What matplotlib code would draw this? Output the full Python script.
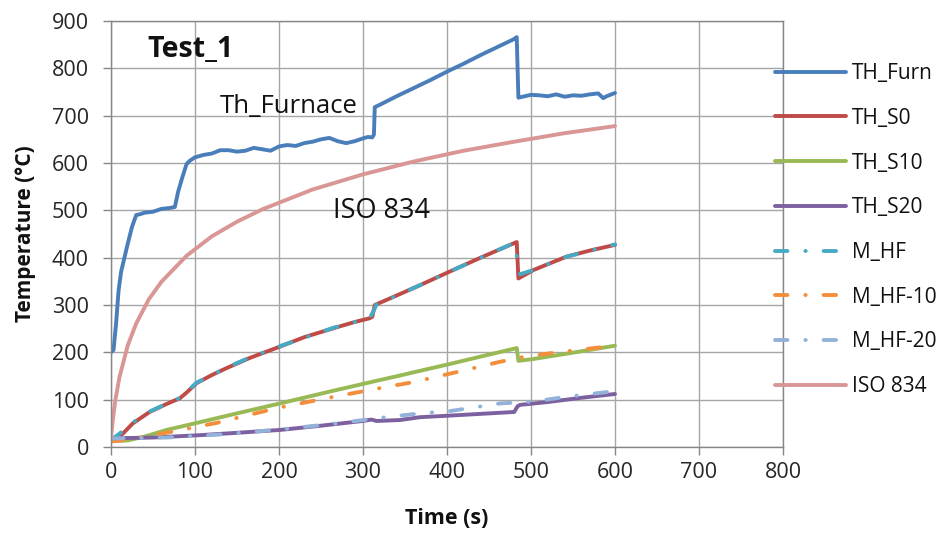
import matplotlib
matplotlib.use("Agg")
import matplotlib.pyplot as plt

plt.rcParams['font.family'] = ['Open Sans', 'DejaVu Sans']

# ---------------- data ----------------
t_furn = [0, 3, 6, 9, 12, 16, 20, 25, 30, 35, 40, 50, 60, 70, 76, 80, 85, 90, 94, 100,
          110, 120, 130, 140, 150, 160, 170, 180, 190, 200, 210, 220, 230, 240, 250, 260,
          270, 280, 290, 300, 306, 311, 313, 314, 320, 340, 360, 380, 400, 420, 440, 460,
          480, 483, 485, 490, 500, 510, 520, 530, 540, 550, 560, 570, 580, 586, 590, 600]
T_furn = [200, 205, 260, 330, 370, 400, 430, 465, 490, 492, 495, 497, 503, 505, 507, 540,
          570, 598, 605, 612, 617, 620, 627, 627, 624, 626, 632, 629, 626, 635, 638, 636,
          642, 645, 650, 653, 646, 642, 646, 652, 655, 654, 660, 718, 723, 741, 758, 775,
          793, 810, 828, 845, 862, 866, 738, 740, 744, 743, 741, 745, 740, 743, 742, 745,
          747, 737, 741, 748]

t_s0 = [0, 5, 14, 26, 46, 65, 82, 90, 102, 120, 138, 165, 201, 230, 265, 290, 308, 311,
        314, 340, 368, 400, 440, 483, 485, 503, 542, 570, 600]
T_s0 = [15, 20, 28, 50, 74, 90, 103, 115, 135, 152, 167, 188, 212, 232, 251, 264, 272, 275,
        300, 320, 342, 368, 400, 433, 356, 374, 402, 415, 427]

t_s10 = [0, 20, 40, 66, 100, 145, 201, 265, 314, 344, 368, 400, 440, 483, 485, 503, 542, 600]
T_s10 = [12, 14, 22, 36, 50, 69, 92, 119, 139, 151, 161, 174, 191, 209, 182, 186, 197, 214]

t_s20 = [0, 20, 50, 106, 150, 201, 250, 300, 310, 316, 344, 368, 400, 440, 480, 484, 487,
         520, 560, 600]
T_s20 = [18, 19, 20, 25, 30, 36, 45, 55, 58, 55, 57, 63, 66, 70, 74, 86, 89, 95, 104, 112]

t_hf = [0, 10, 26, 46, 82, 102, 138, 165, 201, 265, 308, 312, 316, 368, 400, 440, 480,
        484, 487, 503, 542, 600]
T_hf = [15, 28, 52, 75, 104, 136, 168, 189, 213, 252, 273, 285, 301, 342, 368, 400, 431,
        395, 365, 374, 402, 428]

t_hf10 = [0, 20, 40, 66, 126, 197, 265, 328, 360, 423, 463, 490, 523, 560, 600]
T_hf10 = [12, 15, 22, 30, 51, 82, 106, 127, 137, 163, 180, 190, 198, 206, 214]

t_hf20 = [0, 35, 66, 126, 201, 265, 332, 368, 404, 463, 503, 542, 600]
T_hf20 = [18, 19, 20, 26, 37, 49, 64, 71, 76, 92, 96, 106, 118]

t_iso = [0, 2, 5, 10, 20, 30, 45, 60, 90, 120, 150, 180, 240, 300, 360, 420, 480, 540, 600]
T_iso = [20, 55, 97, 147, 215, 261, 312, 349, 404, 445, 476, 502, 544, 576, 603, 626, 645,
         663, 678]

x_ticks = [0, 100, 200, 300, 400, 500, 600, 700, 800]
y_ticks = [0, 100, 200, 300, 400, 500, 600, 700, 800, 900]

# ---------------- figure ----------------
fig = plt.figure(figsize=(9.45, 5.36), dpi=100)
ax = fig.add_axes([111/945, 1-447/536, (783-111)/945, (447-21)/536])

lw = 2.8
dashdot = (0, (3.2, 4.6, 0.1, 4.6))
series = [
    (t_furn, T_furn, 'TH_Furn', '#4A7EBB', '-'),
    (t_s0, T_s0, 'TH_S0', '#BE4B48', '-'),
    (t_s10, T_s10, 'TH_S10', '#98B954', '-'),
    (t_s20, T_s20, 'TH_S20', '#7D60A0', '-'),
    (t_hf, T_hf, 'M_HF', '#46AAC5', dashdot),
    (t_hf10, T_hf10, 'M_HF-10', '#F38F3B', dashdot),
    (t_hf20, T_hf20, 'M_HF-20', '#93B2DA', dashdot),
    (t_iso, T_iso, 'ISO 834', '#D99694', '-'),
]
for t, T, lab, c, ls in series:
    ax.plot(t, T, color=c, lw=lw, ls=ls, label=lab, solid_capstyle='round',
            dash_capstyle='round', solid_joinstyle='round')

ax.set_xlim(0, 800)
ax.set_ylim(0, 900)
ax.set_xticks(x_ticks)
ax.set_yticks(y_ticks)
ax.grid(True, color='#A6A6A6', lw=1.0)
ax.set_axisbelow(True)
for s in ax.spines.values():
    s.set_color('#868686')
    s.set_linewidth(1.0)
ax.tick_params(axis='both', colors='#868686', labelcolor='#262626', labelsize=15.5,
               length=6, width=1.0, direction='out')
ax.tick_params(axis='y', pad=10)
ax.tick_params(axis='x', pad=5)

ax.set_xlabel('Time (s)', fontsize=15.5, fontweight='bold', color='#111111', labelpad=18)
ax.set_ylabel('Temperature (°C)', fontsize=15, fontweight='bold', color='#111111', labelpad=11)

ax.text(43, 839, 'Test_1', fontsize=20.5, fontweight='bold', va='center', ha='left', color='#111111')
ax.text(130, 720, 'Th_Furnace', fontsize=18.5, va='center', ha='left', color='#111111')
ax.text(264, 499, 'ISO 834', fontsize=19.5, va='center', ha='left', color='#111111')

leg = ax.legend(loc='upper left', bbox_to_anchor=(775/945, 1-63/536),
                bbox_transform=fig.transFigure, frameon=False, fontsize=15,
                handlelength=3.4, handletextpad=0.3, labelspacing=1.14,
                borderpad=0, borderaxespad=0)
for txt in leg.get_texts():
    txt.set_color('#111111')

fig.savefig('out.png', dpi=100)
